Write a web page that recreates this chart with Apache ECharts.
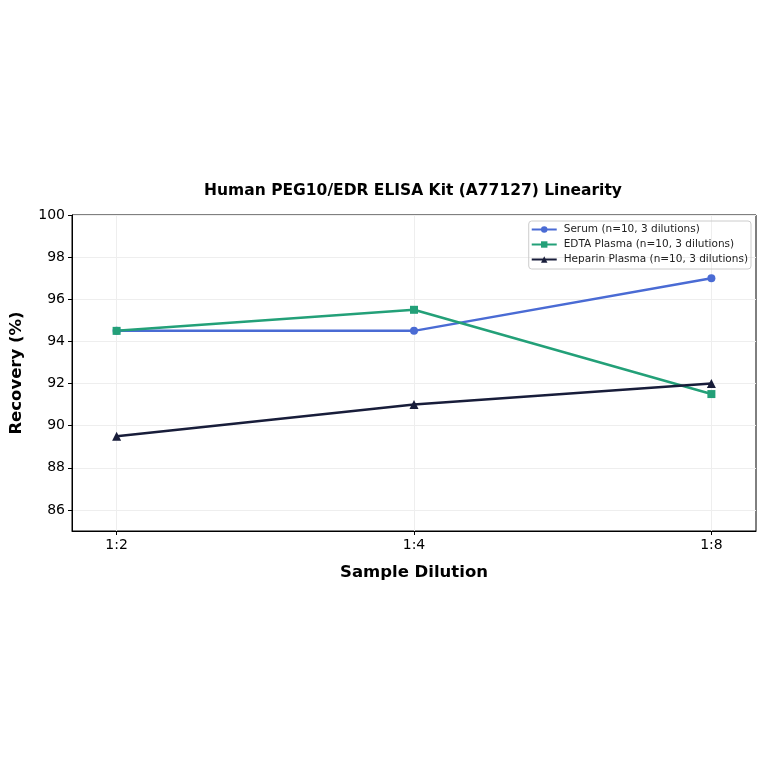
<!DOCTYPE html>
<html>

<head>
  <meta charset="UTF-8">
  <title>Human PEG10/EDR ELISA Kit (A77127) Linearity</title>
  <script src="https://cdn.jsdelivr.net/npm/echarts@6.0.0/dist/echarts.min.js"></script>
  <style>
    html, body { margin: 0; padding: 0; background: #fff; }
    #chart { width: 764px; height: 764px; }
  </style>
</head>

<body>
  <div id="chart"></div>
  <script>
    // dilution categories (placed at x = 0, 1, 2)
    const dilutions = ['1:2', '1:4', '1:8'];
    const serum = [94.5, 94.5, 97];
    const edtaPlasma = [94.5, 95.5, 91.5];
    const heparinPlasma = [89.5, 91, 92];
    const yTicks = [86, 88, 90, 92, 94, 96, 98, 100];

    const font = 'DejaVu Sans';

    function toPoints(values) {
      return values.map((v, i) => [i, v]);
    }

    function lineSeries(name, values, color, symbol, size) {
      return {
        name: name,
        type: 'line',
        data: toPoints(values),
        symbol: symbol,
        symbolSize: size,
        lineStyle: { color: color, width: 2.5 },
        itemStyle: { color: color },
        emphasis: { disabled: true }
      };
    }

    const chart = echarts.init(document.getElementById('chart'));
    chart.setOption({
      animation: false,
      title: {
        text: 'Human PEG10/EDR ELISA Kit (A77127) Linearity',
        left: 408,
        textAlign: 'center',
        top: 178,
        textStyle: { fontFamily: font, fontSize: 15.5, fontWeight: 'bold', color: '#000' }
      },
      legend: {
        orient: 'vertical',
        right: 13,
        top: 221,
        itemWidth: 25,
        itemHeight: 8,
        itemGap: 4,
        padding: [3, 3, 4, 2],
        borderColor: '#ccc',
        borderWidth: 1,
        borderRadius: 3,
        textStyle: { fontFamily: font, fontSize: 10.5, color: '#222', padding: [0, 0, 0, 2] },
        data: ['Serum (n=10, 3 dilutions)', 'EDTA Plasma (n=10, 3 dilutions)', 'Heparin Plasma (n=10, 3 dilutions)']
      },
      grid: {
        left: 69,
        right: 8,
        top: 215,
        bottom: 233,
        show: true,
        borderColor: '#000',
        borderWidth: 1
      },
      xAxis: {
        type: 'value',
        min: -0.15,
        max: 2.15,
        name: 'Sample Dilution',
        nameLocation: 'middle',
        nameGap: 33,
        nameTextStyle: { fontFamily: font, fontSize: 16.5, fontWeight: 'bold', color: '#000' },
        axisLine: { show: true, onZero: false, lineStyle: { color: '#000' } },
        axisTick: { show: true, length: 4, customValues: [0, 1, 2], lineStyle: { color: '#000' } },
        axisLabel: {
          customValues: [0, 1, 2],
          formatter: v => dilutions[Math.round(v)],
          fontFamily: font, fontSize: 14, color: '#000', margin: 7
        },
        splitLine: { show: true, lineStyle: { color: '#eee', width: 1 } }
      },
      yAxis: {
        type: 'value',
        min: 85,
        max: 100,
        name: 'Recovery (%)',
        nameLocation: 'middle',
        nameGap: 47,
        nameTextStyle: { fontFamily: font, fontSize: 16.5, fontWeight: 'bold', color: '#000' },
        axisLine: { show: true, onZero: false, lineStyle: { color: '#000' } },
        axisTick: { show: true, length: 4, customValues: yTicks, lineStyle: { color: '#000' } },
        axisLabel: {
          customValues: yTicks,
          fontFamily: font, fontSize: 14, color: '#000', margin: 7
        },
        splitLine: { show: true, lineStyle: { color: '#eee', width: 1 } }
      },
      series: [
        lineSeries('Serum (n=10, 3 dilutions)', serum, '#4a6bd4', 'circle', 8),
        lineSeries('EDTA Plasma (n=10, 3 dilutions)', edtaPlasma, '#23a078', 'rect', 8),
        lineSeries('Heparin Plasma (n=10, 3 dilutions)', heparinPlasma, '#181d3a', 'triangle', 9)
      ]
    });
  </script>
</body>

</html>
